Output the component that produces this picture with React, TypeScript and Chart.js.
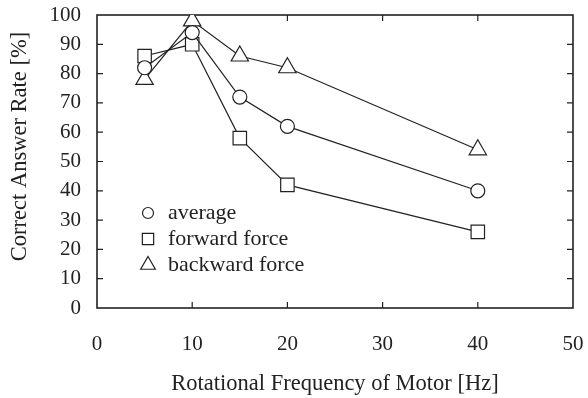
import React, { useEffect, useRef } from "react";
import { Chart, registerables } from "chart.js";
import { drawPoint } from "chart.js/helpers";

Chart.register(...registerables);

const frequencies = [5, 10, 15, 20, 40];
const averageRate = [82, 94, 72, 62, 40];
const forwardRate = [86, 90, 58, 42, 26];
const backwardRate = [78, 98, 86, 82, 54];
const seriesNames = ["average", "forward force", "backward force"];
const xTitle = "Rotational Frequency of Motor [Hz]";
const yTitle = "Correct Answer Rate [%]";

const FONT = "'Liberation Serif', 'Times New Roman', serif";
const INK = "#222";

const framePlugin = {
  id: "frame",
  beforeDatasetsDraw(chart: any) {
    const { ctx, chartArea: a, scales } = chart;
    const x = scales.x;
    const y = scales.y;
    ctx.save();
    ctx.strokeStyle = INK;
    ctx.lineWidth = 1.6;
    ctx.strokeRect(a.left, a.top, a.right - a.left, a.bottom - a.top);
    ctx.lineWidth = 1.2;
    ctx.beginPath();
    x.ticks.forEach((t: any) => {
      if (t.value > x.min && t.value < x.max) {
        const px = x.getPixelForValue(t.value);
        ctx.moveTo(px, a.bottom);
        ctx.lineTo(px, a.bottom - 6);
        ctx.moveTo(px, a.top);
        ctx.lineTo(px, a.top + 6);
      }
    });
    y.ticks.forEach((t: any) => {
      if (t.value > y.min && t.value < y.max) {
        const py = y.getPixelForValue(t.value);
        ctx.moveTo(a.left, py);
        ctx.lineTo(a.left + 6, py);
        ctx.moveTo(a.right, py);
        ctx.lineTo(a.right - 6, py);
      }
    });
    ctx.stroke();
    // y axis title, drawn slightly above the axis centre as in the reference
    ctx.fillStyle = INK;
    ctx.font = `22.5px ${FONT}`;
    ctx.textAlign = "center";
    ctx.textBaseline = "middle";
    ctx.translate(20, (a.top + a.bottom) / 2 - 15);
    ctx.rotate(-Math.PI / 2);
    ctx.fillText(yTitle, 0, 0);
    ctx.restore();
  },
};

const legendPlugin = {
  id: "insideLegend",
  afterDraw(chart: any) {
    const { ctx, chartArea: a } = chart;
    const styles = ["circle", "rect", "triangle"];
    const radii = [5.5, 8, 8.5];
    ctx.save();
    ctx.font = `22px ${FONT}`;
    ctx.textBaseline = "middle";
    ctx.textAlign = "left";
    chart.data.datasets.forEach((ds: any, i: number) => {
      const cy = a.top + 198 + i * 26;
      const cx = a.left + 51;
      ctx.fillStyle = "#fff";
      ctx.strokeStyle = INK;
      ctx.lineWidth = 1.2;
      drawPoint(ctx, { pointStyle: styles[i], radius: radii[i], rotation: 0, borderWidth: 1.2 } as any, cx, cy);
      ctx.fillStyle = INK;
      ctx.fillText(ds.label, a.left + 71, cy);
    });
    ctx.restore();
  },
};

export default function App() {
  const ref = useRef<HTMLCanvasElement>(null);
  useEffect(() => {
    document.body.style.margin = "0";
    const toPts = (vals: number[]) => frequencies.map((f, i) => ({ x: f, y: vals[i] }));
    const common = {
      borderColor: INK,
      borderWidth: 1.2,
      pointBackgroundColor: "#fff",
      pointBorderColor: INK,
      pointBorderWidth: 1.2,
      showLine: true,
      tension: 0,
    };
    const chart = new Chart(ref.current as HTMLCanvasElement, {
      type: "scatter",
      data: {
        datasets: [
          { ...common, label: seriesNames[0], data: toPts(averageRate), pointStyle: "circle", pointRadius: 7 },
          { ...common, label: seriesNames[1], data: toPts(forwardRate), pointStyle: "rect", pointRadius: 9.5 },
          { ...common, label: seriesNames[2], data: toPts(backwardRate), pointStyle: "triangle", pointRadius: 10 },
        ],
      },
      options: {
        animation: false,
        responsive: false,
        layout: { padding: { top: 15, right: 15, left: 0, bottom: 0 } },
        plugins: { legend: { display: false }, tooltip: { enabled: false } },
        scales: {
          x: {
            type: "linear",
            min: 0,
            max: 50,
            ticks: { stepSize: 10, color: INK, font: { family: FONT, size: 21 }, padding: 16 },
            grid: { display: false },
            border: { display: false },
            title: { display: true, text: xTitle, color: INK, font: { family: FONT, size: 22.5 }, padding: { top: 0, bottom: 0 } },
            afterFit(scale: any) {
              scale.height = 90;
              scale.paddingLeft = 0;
              scale.paddingRight = 0;
            },
          },
          y: {
            min: 0,
            max: 100,
            ticks: { stepSize: 10, color: INK, font: { family: FONT, size: 21 }, padding: 8 },
            grid: { display: false },
            border: { display: false },
            title: { display: false, text: yTitle },
            afterFit(scale: any) {
              scale.width = 97;
              scale.paddingTop = 0;
              scale.paddingBottom = 0;
            },
          },
        },
      },
      plugins: [framePlugin, legendPlugin],
    } as any);
    return () => chart.destroy();
  }, []);
  return <canvas ref={ref} width={588} height={398} style={{ display: "block" }} />;
}
